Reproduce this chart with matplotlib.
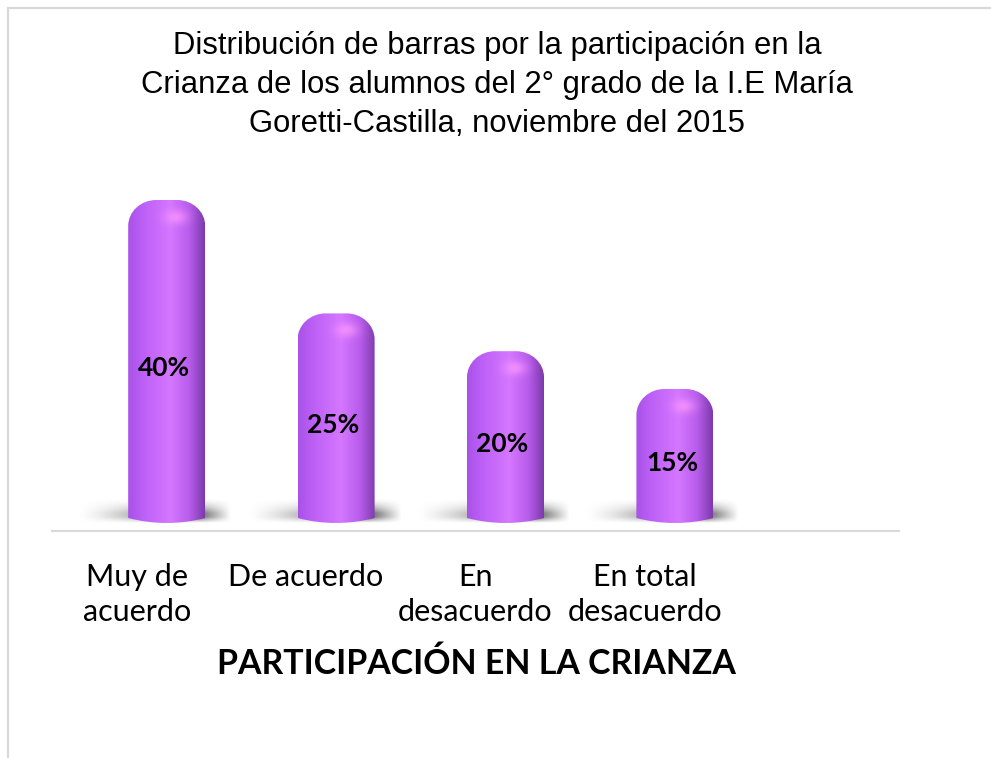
import numpy as np
import matplotlib
matplotlib.use("Agg")
import matplotlib.pyplot as plt
from matplotlib.path import Path
from matplotlib.patches import PathPatch, Rectangle
from matplotlib.colors import LinearSegmentedColormap

# ---- data ----
categories = ["Muy de\nacuerdo", "De acuerdo", "En\ndesacuerdo", "En total\ndesacuerdo"]
values = [40, 25, 20, 15]
value_labels = ["40%", "25%", "20%", "15%"]
title = ("Distribución de barras por la participación en la\n"
         "Crianza de los alumnos del 2° grado de la I.E María\n"
         "Goretti-Castilla, noviembre del 2015")
xlabel = "PARTICIPACIÓN EN LA CRIANZA"

W, H = 991, 758
DPI = 100
fig = plt.figure(figsize=(W / DPI, H / DPI), dpi=DPI)
fig.patch.set_facecolor("white")

# chart frame (light border)
fig.add_artist(Rectangle((8 / W, -0.1), 1.2, 1 - 8 / H + 0.1, transform=fig.transFigure,
                         fill=False, edgecolor="#d9d9d9", linewidth=1.6))

# axes geometry in pixels
ax_l, ax_r, ax_b, ax_t = 52, 899, 531, 190
ax = fig.add_axes([ax_l / W, 1 - ax_b / H, (ax_r - ax_l) / W, (ax_b - ax_t) / H])
nslots = 5
px_per_x = (ax_r - ax_l) / nslots
px_per_y = 7.56
y0_px = 502.4  # pixel row of value 0
ylo = -(ax_b - y0_px) / px_per_y
yhi = (y0_px - ax_t) / px_per_y
ax.set_xlim(-0.5, nslots - 0.5)
ax.set_ylim(ylo, yhi)

bar_bottom = -15.6 / px_per_y
bar_w = 77 / px_per_x
bar_shift = 30 / px_per_x

cmap = LinearSegmentedColormap.from_list(
    "cyl", [(0.0, "#a852e8"), (0.2, "#bd60f6"), (0.55, "#d577ff"),
            (0.8, "#b75ceb"), (1.0, "#7d3aac")])

k = 0.5523
for i, v in enumerate(values):
    xc = i + bar_shift
    x0, x1 = xc - bar_w / 2, xc + bar_w / 2
    rx = 28 / px_per_x
    ry = 26 / px_per_y
    sag = 5 / px_per_y
    b = bar_bottom
    verts = [
        (x0, b),
        (x0, v - ry),
        (x0, v - ry + k * ry), (x0 + rx - k * rx, v), (x0 + rx, v),
        (x1 - rx, v),
        (x1 - rx + k * rx, v), (x1, v - ry + k * ry), (x1, v - ry),
        (x1, b),
        (xc, b - 2 * sag), (x0, b),
        (x0, b),
    ]
    codes = [Path.MOVETO, Path.LINETO,
             Path.CURVE4, Path.CURVE4, Path.CURVE4,
             Path.LINETO,
             Path.CURVE4, Path.CURVE4, Path.CURVE4,
             Path.LINETO,
             Path.CURVE3, Path.CURVE3,
             Path.CLOSEPOLY]
    path = Path(verts, codes)

    # soft shadow on the floor
    sx0 = x0 - 52 / px_per_x
    sx1 = x1 + 26 / px_per_x
    sh_top = b + 20 / px_per_y
    sh_bot = b - 5 / px_per_y
    ny, nx = 50, 200
    gx = np.linspace(0, 1, nx)
    gy = np.linspace(0, 1, ny)  # 0 = top row
    GX, GY = np.meshgrid(gx, gy)
    ramp_x = np.clip(GX / 0.6, 0, 1) ** 1.5 * np.clip((1 - GX) / 0.2, 0, 1)
    ramp_y = np.clip(GY / 0.6, 0, 1) ** 1.5 * np.clip((1 - GY) / 0.25, 0, 1)
    rgba = np.zeros((ny, nx, 4))
    rgba[..., :3] = 0.35
    rgba[..., 3] = ramp_x * ramp_y * 0.9
    ax.imshow(rgba, extent=(sx0, sx1, sh_bot, sh_top), origin="upper",
              aspect="auto", zorder=1, interpolation="bilinear")

    # cylinder body with horizontal gradient
    grad = np.linspace(0, 1, 256).reshape(1, -1)
    im = ax.imshow(grad, cmap=cmap, extent=(x0, x1, b - 2 * sag, v), origin="lower",
                   aspect="auto", zorder=2, interpolation="bilinear")
    patch = PathPatch(path, facecolor="none", edgecolor="none", zorder=2)
    ax.add_patch(patch)
    im.set_clip_path(patch)

    # top cap shading (lighter dome highlight)
    cap_h = 34 / px_per_y
    cy = np.linspace(0, 1, 60).reshape(-1, 1)
    cx = np.linspace(-1, 1, 120).reshape(1, -1)
    hl = np.exp(-(((cx - 0.25) / 0.3) ** 2) - ((cy - 0.5) / 0.22) ** 2)
    cap = np.zeros((60, 120, 4))
    cap[..., 0] = 1.0
    cap[..., 1] = 0.6
    cap[..., 2] = 1.0
    cap[..., 3] = hl * 0.7
    im2 = ax.imshow(cap, extent=(x0, x1, v - cap_h, v), origin="lower",
                    aspect="auto", zorder=3, interpolation="bilinear")
    im2.set_clip_path(patch)

    # value label
    ax.annotate(value_labels[i], xy=(xc - 3 / px_per_x, (v + b) / 2),
                xytext=(0, -6.5), textcoords="offset points",
                ha="center", va="center", fontsize=19, fontweight="bold",
                family=["Lato", "DejaVu Sans"], color="black", zorder=5)

for s in ["top", "right", "left"]:
    ax.spines[s].set_visible(False)
ax.spines["bottom"].set_color("#d9d9d9")
ax.spines["bottom"].set_linewidth(1.5)
ax.set_yticks([])
ax.set_xticks(range(len(categories)))
ax.set_xticklabels(categories, fontsize=22, family=["Lato", "DejaVu Sans"],
                   linespacing=1.32)
ax.tick_params(axis="x", length=0, pad=23)
ax.patch.set_alpha(0)

fig.text(497 / W, 1 - 85 / H, title, ha="center", va="center",
         fontsize=22.3, family=["Liberation Sans Narrow", "Liberation Sans"],
         linespacing=1.41)
fig.text(476 / W, 1 - 664 / H, xlabel, ha="center", va="center",
         fontsize=24.4, fontweight="bold", family=["Lato", "DejaVu Sans"])

fig.savefig("out.png", dpi=DPI, facecolor="white")
